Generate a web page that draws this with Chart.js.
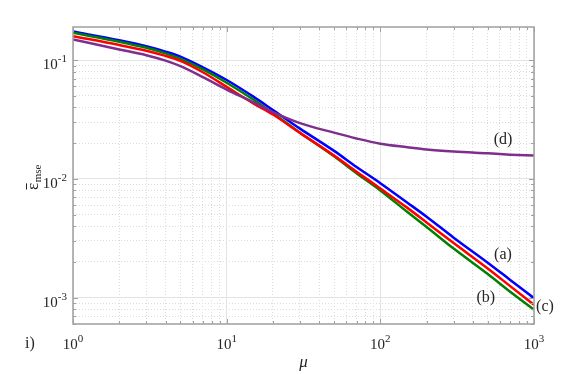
<!DOCTYPE html>
<html>
<head>
<meta charset="utf-8">
<script src="https://cdn.jsdelivr.net/npm/chart.js@4.4.0/dist/chart.umd.min.js"></script>
<style>
  html, body { margin: 0; padding: 0; background: #fff; }
  #wrap { width: 579px; height: 374px; }
</style>
</head>
<body>
<div id="wrap"><canvas id="chart"></canvas></div>
<script>
const muValues = [1, 2, 3, 4, 5, 7, 10, 15, 20, 30, 50, 70, 100, 150, 200, 300, 500, 700, 1000];

// (a) blue
const curveA = [0.174, 0.147, 0.131, 0.118, 0.107, 0.087, 0.068, 0.049, 0.038, 0.0265, 0.0172, 0.0126, 0.0092, 0.0063, 0.0048, 0.0032, 0.00197, 0.00141, 0.00099];
// (b) green
const curveB = [0.170, 0.143, 0.127, 0.114, 0.1025, 0.0835, 0.0645, 0.0463, 0.0357, 0.0245, 0.0155, 0.01115, 0.0080, 0.00526, 0.00394, 0.00259, 0.00158, 0.00112, 0.00079];
// (c) red
const curveC = [0.159, 0.134, 0.120, 0.1085, 0.0985, 0.079, 0.0595, 0.043, 0.0348, 0.0244, 0.0157, 0.0115, 0.0083, 0.0057, 0.0043, 0.00288, 0.00176, 0.00125, 0.00087];
// (d) purple
const curveD = [0.149, 0.123, 0.110, 0.099, 0.089, 0.072, 0.0565, 0.0440, 0.0365, 0.0295, 0.0245, 0.0219, 0.0198, 0.0185, 0.0177, 0.0170, 0.0164, 0.0160, 0.0157];

const xTickValues = [1, 10, 100, 1000];
const yTickValues = [0.001, 0.01, 0.1];

const curveNames = ['(a)', '(b)', '(c)', '(d)'];
const curveColors = ['#0000ff', '#008000', '#ff0000', '#7e2f8e'];

const serif = '"Liberation Serif", "Times New Roman", serif';
const textColor = '#262626';

function isDecade(v) {
    const e = Math.log10(v);
    return Math.abs(e - Math.round(e)) < 1e-9;
}

// 1..9 x 10^k ticks, like a matlab log axis
function logTicks(axis) {
    const out = [];
    const lo = Math.floor(Math.log10(axis.min));
    const hi = Math.ceil(Math.log10(axis.max));
    for (let e = lo; e <= hi; e++) {
        for (let s = 1; s <= 9; s++) {
            const v = s * Math.pow(10, e);
            if (v >= axis.min * 0.9999 && v <= axis.max * 1.0001) out.push({ value: v });
        }
    }
    axis.ticks = out;
}

function toPoints(ys) {
    return muValues.map((m, i) => ({ x: m, y: ys[i] }));
}

// label anchors in data units (mu, eps)
const labelSpots = [
    { text: curveNames[0], mu: 628, eps: 0.00229 },
    { text: curveNames[1], mu: 486, eps: 0.00099 },
    { text: curveNames[2], mu: 1178, eps: 0.000835 },
    { text: curveNames[3], mu: 628, eps: 0.0214 }
];

const frame = {
    id: 'frame',
    afterDatasetsDraw(c) {
        const { ctx, chartArea: a, scales: { x, y } } = c;
        ctx.save();
        ctx.strokeStyle = '#a0a0a0';
        ctx.lineWidth = 1;
        ctx.beginPath();
        x.ticks.forEach(t => {
            const px = Math.round(x.getPixelForValue(t.value)) + 0.5;
            const len = isDecade(t.value) ? 5 : 3;
            ctx.moveTo(px, a.bottom); ctx.lineTo(px, a.bottom - len);
            ctx.moveTo(px, a.top); ctx.lineTo(px, a.top + len);
        });
        y.ticks.forEach(t => {
            const py = Math.round(y.getPixelForValue(t.value)) + 0.5;
            const len = isDecade(t.value) ? 5 : 3;
            ctx.moveTo(a.left, py); ctx.lineTo(a.left + len, py);
            ctx.moveTo(a.right, py); ctx.lineTo(a.right - len, py);
        });
        ctx.stroke();
        ctx.lineWidth = 1.5;
        ctx.strokeRect(a.left, a.top, a.right - a.left, a.bottom - a.top);

        // tick labels 10^k
        ctx.fillStyle = textColor;
        ctx.textBaseline = 'alphabetic';
        xTickValues.forEach(v => {
            const px = x.getPixelForValue(v);
            const exp = String(Math.round(Math.log10(v)));
            ctx.font = '15px ' + serif;
            const w1 = ctx.measureText('10').width;
            ctx.font = '11px ' + serif;
            const w2 = ctx.measureText(exp).width;
            const left = px - (w1 + w2) / 2;
            ctx.font = '15px ' + serif;
            ctx.textAlign = 'left';
            ctx.fillText('10', left, a.bottom + 25);
            ctx.font = '11px ' + serif;
            ctx.fillText(exp, left + w1, a.bottom + 18);
        });
        yTickValues.forEach(v => {
            const py = y.getPixelForValue(v);
            const exp = String(Math.round(Math.log10(v)));
            ctx.font = '11px ' + serif;
            const w2 = ctx.measureText(exp).width;
            const right = a.left - 6;
            ctx.textAlign = 'right';
            ctx.fillText(exp, right, py + 2);
            ctx.font = '15px ' + serif;
            ctx.fillText('10', right - w2, py + 9);
        });

        // axis titles
        ctx.textAlign = 'center';
        ctx.font = 'italic 17px ' + serif;
        ctx.fillText('\u03bc', (a.left + a.right) / 2, a.bottom + 43);
        ctx.font = '16px ' + serif;
        ctx.fillText('i)', 30, a.bottom + 24);

        ctx.save();
        ctx.translate(38, 190);
        ctx.rotate(-Math.PI / 2);
        ctx.textAlign = 'left';
        ctx.font = '17px ' + serif;
        const we = ctx.measureText('\u03b5').width;
        ctx.fillText('\u03b5', 0, 0);
        ctx.fillRect(0.5, -12, we - 1, 1);
        ctx.font = '11px ' + serif;
        ctx.fillText('mse', we + 0.5, 3);
        ctx.restore();

        // curve labels
        ctx.font = '16px ' + serif;
        ctx.textAlign = 'center';
        ctx.textBaseline = 'middle';
        labelSpots.forEach(s => {
            ctx.fillText(s.text, x.getPixelForValue(s.mu), y.getPixelForValue(s.eps));
        });
        ctx.restore();
    }
};

const gridColor = ctx => (ctx.tick && isDecade(ctx.tick.value)) ? '#e3e3e3' : '#dcdcdc';
const gridDash = ctx => (ctx.tick && isDecade(ctx.tick.value)) ? [] : [1, 2];

const chart = new Chart(document.getElementById('chart'), {
    type: 'line',
    data: {
        datasets: [
            { label: curveNames[0], data: toPoints(curveA), borderColor: curveColors[0], order: 3 },
            { label: curveNames[1], data: toPoints(curveB), borderColor: curveColors[1], order: 2 },
            { label: curveNames[2], data: toPoints(curveC), borderColor: curveColors[2], order: 1 },
            { label: curveNames[3], data: toPoints(curveD), borderColor: curveColors[3], order: 0 }
        ]
    },
    options: {
        responsive: true,
        maintainAspectRatio: false,
        animation: false,
        layout: { padding: { left: 73, right: 45, top: 27, bottom: 50 } },
        elements: {
            line: { borderWidth: 2.5, fill: false, cubicInterpolationMode: 'monotone' },
            point: { radius: 0, hoverRadius: 0 }
        },
        plugins: {
            legend: { display: false },
            tooltip: { enabled: false }
        },
        scales: {
            x: {
                type: 'logarithmic',
                min: 1,
                max: 1000,
                afterBuildTicks: logTicks,
                ticks: { display: false },
                grid: { color: gridColor, drawTicks: false, lineWidth: 1 },
                border: { display: false, dash: gridDash }
            },
            y: {
                type: 'logarithmic',
                min: 0.0006,
                max: 0.19,
                afterBuildTicks: logTicks,
                ticks: { display: false },
                grid: { color: gridColor, drawTicks: false, lineWidth: 1 },
                border: { display: false, dash: gridDash }
            }
        }
    },
    plugins: [frame]
});
</script>
</body>
</html>
